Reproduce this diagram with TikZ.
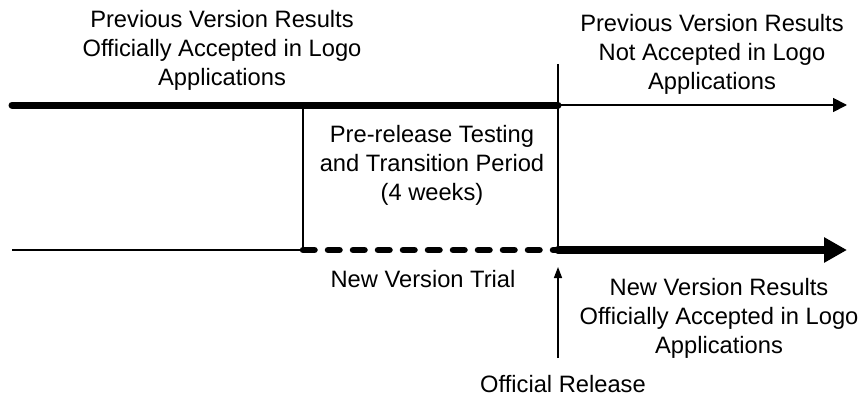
\documentclass[tikz,border=0pt]{standalone}
\usepackage{fontspec}
\setmainfont{Liberation Sans}
\usetikzlibrary{arrows.meta}
\begin{document}
\begin{tikzpicture}[x=1pt,y=1pt,
  lbl/.style={font=\fontsize{23.7}{29}\selectfont, align=center, anchor=base, inner sep=0pt},
  thickln/.style={line width=7pt, line cap=round},
  thickarrow/.style={line width=8pt, line cap=round, -{Triangle[length=23pt,width=24pt,line cap=butt]}},
  thinarrow/.style={line width=1.8pt, -{Triangle[length=14pt,width=14pt]}},
  thinln/.style={line width=1.6pt},
  vline/.style={line width=1.4pt},
  dashln/.style={line width=6.5pt, line cap=round, dash pattern=on 11.5pt off 13.5pt},
  relarrow/.style={line width=1.5pt, -{Triangle[length=11pt,width=8pt]}}]
\useasboundingbox (0,0) rectangle (862,-396);
% coordinates
\coordinate (A) at (12,-105);
\coordinate (B) at (558,-105);
\coordinate (C) at (847,-105);
\coordinate (Vt) at (558,-64);
\coordinate (E) at (558,-250);
\coordinate (L) at (12,-250);
\coordinate (D) at (303,-250);
\coordinate (Dt) at (303,-105);
\coordinate (F) at (847,-250);
\coordinate (Rb) at (558,-358);
\coordinate (Rt) at (558,-267);
% text (base anchor = baseline of last line)
\node[lbl] (tl) at (222,-85) {Previous Version Results\\Officially Accepted in Logo\\Applications};
\node[lbl] (tr) at (712,-89) {Previous Version Results\\Not Accepted in Logo\\Applications};
\node[lbl] (mid) at (432,-200) {Pre-release Testing\\and Transition Period\\(4 weeks)};
\node[lbl] (trial) at (423,-287) {New Version Trial};
\node[lbl] (br) at (719,-353) {New Version Results\\Officially Accepted in Logo\\Applications};
\node[lbl] (rel) at (563,-392) {Official Release};
% lines
\draw[vline] (Vt) -- (E);
\draw[vline] (Dt) -- (D);
\draw[thinln] (L) -- (D);
\draw[thickln] (A) -- (B);
\draw[thinarrow] (B) -- (C);
\draw[dashln] (D) -- (E);
\draw[thickarrow] (E) -- (F);
\draw[relarrow] (Rb) -- (Rt);
\end{tikzpicture}
\end{document}
